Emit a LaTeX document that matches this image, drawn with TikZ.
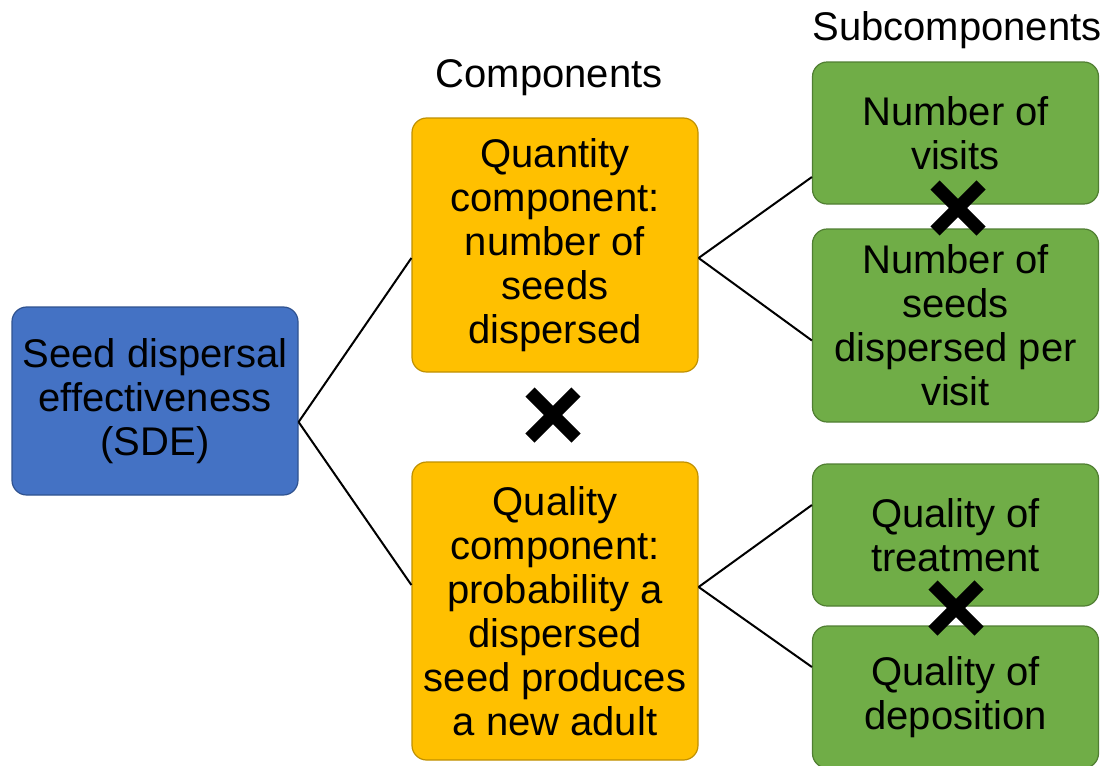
\documentclass[tikz,border=0pt]{standalone}
\usepackage{fontspec}
\setmainfont{Liberation Sans}
\usetikzlibrary{calc}
\definecolor{sdeblue}{HTML}{4472C4}
\definecolor{sdeblueb}{HTML}{2F528F}
\definecolor{qorange}{HTML}{FFC000}
\definecolor{qorangeb}{HTML}{BF9000}
\definecolor{sgreen}{HTML}{70AD47}
\definecolor{sgreenb}{HTML}{507E32}
\begin{document}
\begin{tikzpicture}[x=0.75pt,y=-0.75pt,
  box/.style={rounded corners=11pt, line width=0.9pt, align=center, inner sep=0pt,
    minimum width=214.5pt, font=\fontsize{30}{33}\selectfont},
  bluebox/.style={box, fill=sdeblue, draw=sdeblueb},
  orangebox/.style={box, fill=qorange, draw=qorangeb},
  greenbox/.style={box, fill=sgreen, draw=sgreenb},
  link/.style={line width=1.5pt, black},
  crossline/.style={line width=9.75pt, black},
  header/.style={inner sep=0pt, font=\fontsize{30}{33}\selectfont}
]
\useasboundingbox (0,0) rectangle (1113,765);

\node[header] (hc) at (549,78) {Components};
\node[header] (hs) at (957,30) {Subcomponents};

\node[bluebox, minimum height=141pt] (sde) at (155,401)
  {Seed dispersal\\effectiveness\\(SDE)};
\node[orangebox, minimum height=190.5pt] (qty) at (555,245)
  {Quantity\\component:\\number of\\seeds\\dispersed};
\node[orangebox, minimum height=223.5pt] (qlt) at (555,611)
  {Quality\\component:\\probability a\\dispersed\\seed produces\\a new adult};
\node[greenbox, minimum height=106.5pt] (nv) at (955.5,133)
  {Number of\\visits};
\node[greenbox, minimum height=144.75pt] (ns) at (955.5,325.5)
  {Number of\\seeds\\dispersed per\\visit};
\node[greenbox, minimum height=106.5pt] (qt) at (955.5,535)
  {Quality of\\treatment};
\node[greenbox, minimum height=106.5pt] (qd) at (955.5,697)
  {Quality of\\deposition};

\coordinate (sdeR) at ([yshift=-15.75pt]sde.east);
\draw[link] (sdeR) -- ([yshift=-9.75pt]qty.west);
\draw[link] (sdeR) -- ([yshift=19.5pt]qlt.west);

\coordinate (qtyR) at ([yshift=-9.75pt]qty.east);
\draw[link] (qtyR) -- ([yshift=-33pt]nv.west);
\draw[link] (qtyR) -- ([yshift=-11.25pt]ns.west);

\coordinate (qltR) at ([yshift=18pt]qlt.east);
\draw[link] (qltR) -- ([yshift=22.5pt]qt.west);
\draw[link] (qltR) -- ([yshift=22.5pt]qd.west);

\foreach \cx/\cy in {553/415, 958/208, 956/608}{
  \draw[crossline] (\cx-23,\cy-23) -- (\cx+23,\cy+23);
  \draw[crossline] (\cx-23,\cy+23) -- (\cx+23,\cy-23);
}
\end{tikzpicture}
\end{document}
